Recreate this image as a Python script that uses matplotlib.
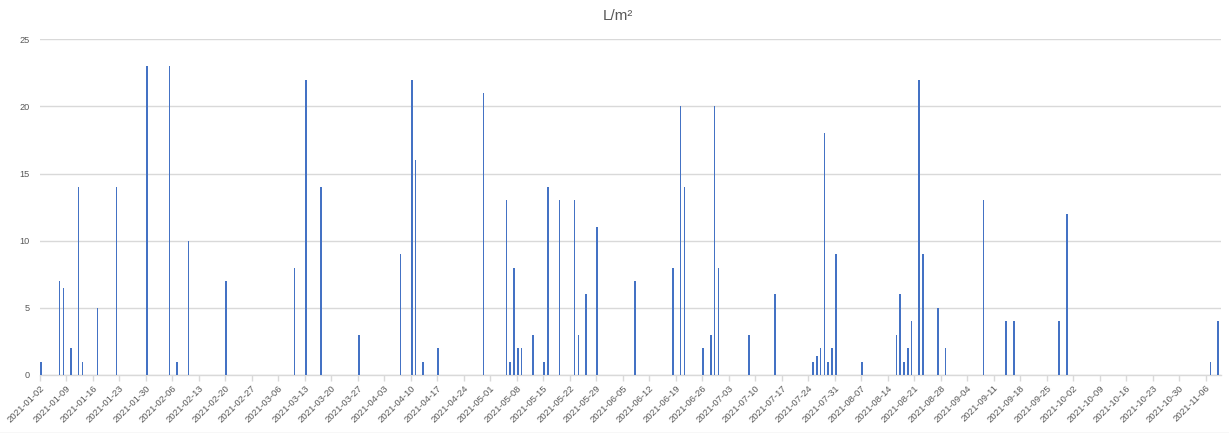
import matplotlib
matplotlib.use("Agg")
import matplotlib.pyplot as plt
import matplotlib.dates as mdates
from matplotlib.lines import Line2D
import pandas as pd
import numpy as np

# ---- data (daily rainfall, L/m², only rainy days listed; others are 0) ----
rain_dates = [
    "2021-01-02", "2021-01-07", "2021-01-08", "2021-01-10", "2021-01-12", "2021-01-13",
    "2021-01-17", "2021-01-22", "2021-01-30", "2021-02-05", "2021-02-07", "2021-02-10",
    "2021-02-20", "2021-03-10", "2021-03-13", "2021-03-17", "2021-03-27", "2021-04-07",
    "2021-04-10", "2021-04-11", "2021-04-13", "2021-04-17", "2021-04-29", "2021-05-05",
    "2021-05-06", "2021-05-07", "2021-05-08", "2021-05-09", "2021-05-12", "2021-05-15",
    "2021-05-16", "2021-05-19", "2021-05-23", "2021-05-24", "2021-05-26", "2021-05-29",
    "2021-06-08", "2021-06-18", "2021-06-20", "2021-06-21", "2021-06-26", "2021-06-28",
    "2021-06-29", "2021-06-30", "2021-07-08", "2021-07-15", "2021-07-25", "2021-07-26",
    "2021-07-27", "2021-07-28", "2021-07-29", "2021-07-30", "2021-07-31", "2021-08-07",
    "2021-08-16", "2021-08-17", "2021-08-18", "2021-08-19", "2021-08-20", "2021-08-22",
    "2021-08-23", "2021-08-27", "2021-08-29", "2021-09-08", "2021-09-14", "2021-09-16",
    "2021-09-28", "2021-09-30", "2021-11-07", "2021-11-09",
]
rain_values = [
    1, 7, 6.5, 2, 14, 1,
    5, 14, 23, 23, 1, 10,
    7, 8, 22, 14, 3, 9,
    22, 16, 1, 2, 21, 13,
    1, 8, 2, 2, 3, 1,
    14, 13, 13, 3, 6, 11,
    7, 8, 20, 14, 2, 3,
    20, 8, 3, 6, 1, 1.4,
    2, 18, 1, 2, 9, 1,
    3, 6, 1, 2, 4, 22,
    9, 5, 2, 13, 4, 4,
    4, 12, 1, 4,
]
start_date = "2021-01-02"
end_date = "2021-11-09"
title = "L/m²"
y_ticks = [0, 5, 10, 15, 20, 25]

# ---- build the full daily series ----
days = pd.date_range(start_date, end_date, freq="D")
series = pd.Series(rain_values, index=pd.to_datetime(rain_dates)).reindex(days, fill_value=0)

grey_txt = "#595959"
grid_col = "#d9d9d9"
bar_col = "#4472C4"
font = ["Liberation Sans", "DejaVu Sans"]
plt.rcParams["font.family"] = font

W, H = 1229, 433
fig = plt.figure(figsize=(W / 100, H / 100), dpi=100)
ax = fig.add_axes([39.5 / W, 1 - 375 / H, (1220.7 - 39.5) / W, (375 - 39.3) / H])

xnum = mdates.date2num(series.index)
ax.bar(xnum + 0.33, series.values, width=0.42, color=bar_col, linewidth=0,
       antialiased=False, zorder=3)

ax.set_xlim(mdates.date2num(days[0]), mdates.date2num(days[-1]) + 1)
ax.set_ylim(0, 25)

# y axis
ax.set_yticks(y_ticks)
ax.yaxis.grid(True, color=grid_col, linewidth=1)
ax.set_axisbelow(True)
ax.tick_params(axis="y", length=0, pad=7, labelsize=6.6, labelcolor=grey_txt)

# x axis: weekly ticks
tick_days = pd.date_range(start_date, end_date, freq="7D")
ax.set_xticks(mdates.date2num(tick_days))
ax.set_xticklabels([d.strftime("%Y-%m-%d") for d in tick_days])
ax.tick_params(axis="x", length=4, width=1, color=grid_col, pad=2,
               labelsize=6.8, labelcolor=grey_txt)
for lbl in ax.get_xticklabels():
    lbl.set_rotation(45)
    lbl.set_ha("right")
    lbl.set_rotation_mode("anchor")

for s in ["top", "right", "left"]:
    ax.spines[s].set_visible(False)
ax.spines["bottom"].set_color(grid_col)
ax.spines["bottom"].set_linewidth(1)

fig.text(618 / W, 1 - 16 / H, title, ha="center", va="center", fontsize=11,
         color=grey_txt)

# outer chart border (bottom edge visible in reference)
fig.add_artist(Line2D([0, 1], [0.5 / H, 0.5 / H], transform=fig.transFigure,
                      color=grid_col, linewidth=1))

fig.savefig("out.png", dpi=100)
